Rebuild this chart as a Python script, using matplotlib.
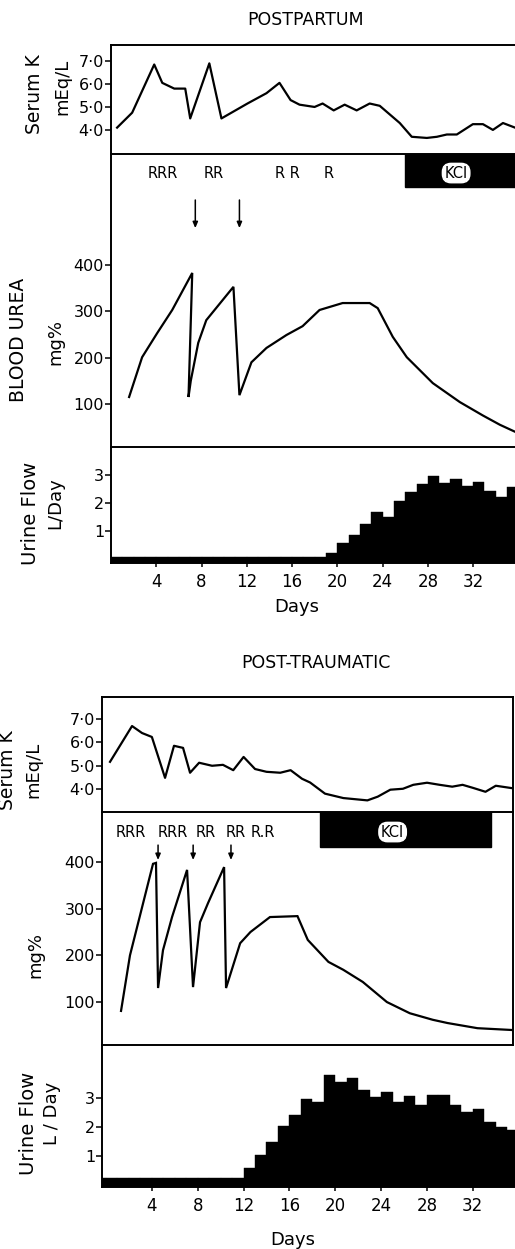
import matplotlib
matplotlib.use("Agg")
import matplotlib.pyplot as plt
from matplotlib.patches import Rectangle

plt.rcParams['font.family'] = ['DejaVu Sans']

# ---------------- POSTPARTUM data ----------------
pp_k_day = [0.54, 1.87, 3.82, 4.53, 5.59, 6.56, 7.0, 8.69, 9.76, 12.06, 13.74, 14.89,
            15.87, 16.66, 17.99, 18.7, 19.68, 20.65, 21.71, 22.86, 23.75, 25.52, 26.58,
            27.91, 28.8, 29.68, 30.56, 31.98, 32.87, 33.75, 34.64, 35.7]
pp_k_val = [4.1, 4.75, 6.85, 6.05, 5.8, 5.8, 4.5, 6.9, 4.5, 5.15, 5.6, 6.05,
            5.3, 5.1, 5.0, 5.15, 4.85, 5.1, 4.85, 5.15, 5.05, 4.3, 3.7,
            3.65, 3.7, 3.8, 3.8, 4.25, 4.25, 4.0, 4.3, 4.1]

pp_urea_day = [1.6, 2.75, 4.08, 5.41, 7.18, 6.85, 7.05, 7.71, 8.42, 10.82, 11.35, 12.41,
               13.74, 15.51, 16.93, 18.43, 20.47, 22.86, 23.57, 24.9, 26.14, 28.44,
               30.83, 32.87, 34.37, 35.7]
pp_urea_val = [115, 201, 253, 303, 383, 115, 150, 232, 281, 353, 119, 190,
               221, 249, 268, 303, 318, 318, 307, 245, 201, 145,
               104, 75, 55, 40]

pp_flow_day = list(range(0, 36))
pp_flow_val = [0.07] * 19 + [0.2, 0.57, 0.85, 1.25, 1.68, 1.5, 2.07, 2.4, 2.68, 2.96,
                             2.7, 2.85, 2.6, 2.75, 2.43, 2.2, 2.57]

pp_r_text = ['RRR', 'RR', 'R R', 'R']
pp_r_day = [4.6, 9.1, 15.6, 19.2]
pp_arrow_day = [7.45, 11.35]
pp_kcl_span = [26.0, 37.0]
pp_kcl_label_day = 30.5

# ---------------- POST-TRAUMATIC data ----------------
pt_k_day = [0.35, 2.27, 3.14, 4.0, 5.15, 5.93, 6.72, 7.33, 8.12, 9.25, 10.2, 11.1,
            12.0, 13.0, 14.0, 15.2, 16.1, 17.1, 17.8, 19.1, 20.7, 22.8, 23.7, 24.8,
            25.9, 26.8, 28.0, 29.1, 30.2, 31.1, 32.0, 33.1, 34.0, 35.5]
pt_k_val = [5.16, 6.7, 6.4, 6.23, 4.47, 5.85, 5.76, 4.69, 5.12, 4.99, 5.03, 4.8,
            5.37, 4.85, 4.73, 4.69, 4.8, 4.43, 4.27, 3.79, 3.6, 3.5, 3.66, 3.96,
            4.0, 4.17, 4.26, 4.17, 4.09, 4.17, 4.04, 3.87, 4.13, 4.02]

pt_urea_day = [1.31, 2.09, 4.1, 4.36, 4.54, 4.97, 5.76, 7.07, 7.59, 8.2, 8.9, 10.3,
               10.47, 11.7, 12.6, 14.3, 16.7, 17.6, 19.4, 20.7, 22.4, 24.5, 26.5,
               28.5, 29.8, 32.4, 35.5]
pt_urea_val = [81, 200, 396, 398, 130, 211, 282, 383, 132, 271, 312, 389,
               130, 226, 250, 282, 284, 233, 186, 169, 143, 100, 76,
               62, 55, 44, 40]

pt_flow_day = list(range(-1, 36))
pt_flow_val = [0.24] * 13 + [0.59, 1.03, 1.48, 2.03, 2.41, 2.97, 2.86, 3.79, 3.55, 3.69,
                             3.28, 3.03, 3.2, 2.86, 3.07, 2.76, 3.1, 3.1, 2.76, 2.52,
                             2.62, 2.17, 2.0, 1.9]

pt_r_text = ['RRR', 'RRR', 'RR', 'RR', 'R.R']
pt_r_day = [2.2, 5.8, 8.7, 11.3, 13.7]
pt_arrow_day = [4.54, 7.6, 10.9]
pt_kcl_span = [18.7, 33.6]
pt_kcl_label_day = 25.0

# shared tick labels
k_ticks = [4, 5, 6, 7]
k_ticklabels = ['4·0', '5·0', '6·0', '7·0']
urea_ticks = [100, 200, 300, 400]
flow_ticks = [1, 2, 3]
day_ticks = [4, 8, 12, 16, 20, 24, 28, 32]

# ---------------- figure ----------------
W, H = 515, 1249
fig = plt.figure(figsize=(W / 100, H / 100), dpi=100)
fig.patch.set_facecolor('white')


def add_ax(x0, x1, y0, y1):
    return fig.add_axes([x0 / W, 1 - y1 / H, (x1 - x0) / W, (y1 - y0) / H])


LW = 1.6
SPW = 1.4
TFS = 11.5


def style(ax, left=True, top=True, bottom=True, right=False):
    for k, v in dict(left=left, top=top, bottom=bottom, right=right).items():
        ax.spines[k].set_visible(v)
        ax.spines[k].set_linewidth(SPW)
    ax.tick_params(axis='y', direction='out', length=4, width=1.1, pad=1, labelsize=TFS)
    ax.tick_params(axis='x', bottom=False, labelbottom=False)
    ax.set_facecolor('none')


def chart(axK, axU, axF, kd, kv, ud, uv, fd, fv, xl_main, xl_flow, flow_ylim,
          rtext, rday, ry, arrows, ay0, ay1, kspan, kbot, klabel, kly, right_spine):
    # Serum K
    axK.plot(kd, kv, color='black', lw=LW)
    axK.set_xlim(*xl_main)
    axK.set_yticks(k_ticks)
    axK.set_yticklabels(k_ticklabels)
    style(axK, right=right_spine)
    # Urea
    axU.plot(ud, uv, color='black', lw=LW, solid_joinstyle='miter')
    axU.set_xlim(*xl_main)
    axU.set_yticks(urea_ticks)
    style(axU, top=False, right=right_spine)
    tr = axU.get_xaxis_transform()
    for t, d in zip(rtext, rday):
        axU.text(d, ry, t, transform=tr, ha='center', va='center', fontsize=10.5)
    for d in arrows:
        axU.annotate('', xy=(d, ay1), xytext=(d, ay0), xycoords=tr, textcoords=tr,
                     arrowprops=dict(arrowstyle='-|>,head_length=0.35,head_width=0.15',
                                     color='black', lw=1.1, shrinkA=0, shrinkB=0))
    axU.add_patch(Rectangle((kspan[0], kbot), kspan[1] - kspan[0], 1 - kbot,
                            transform=tr, facecolor='black', edgecolor='black',
                            clip_on=True))
    axU.text(klabel, kly, 'KCl', transform=tr, ha='center', va='center', fontsize=10.5,
             color='black',
             bbox=dict(boxstyle='round,pad=0.15,rounding_size=0.6', facecolor='white',
                       edgecolor='white'))
    # Urine flow
    axF.bar(fd, [v - flow_ylim[0] for v in fv], width=1.0, align='edge',
            bottom=flow_ylim[0], color='black', edgecolor='black', linewidth=0.3)
    axF.set_xlim(*xl_flow)
    axF.set_ylim(*flow_ylim)
    axF.set_yticks(flow_ticks)
    style(axF, top=False)
    axF.tick_params(axis='x', bottom=True, labelbottom=True, direction='out',
                    length=3, width=1.1, pad=4, labelsize=12)
    axF.set_xticks(day_ticks)


# ---- POSTPARTUM ----
axK1 = add_ax(111, 517, 45, 154)
axU1 = add_ax(111, 517, 154, 447)
axF1 = add_ax(111, 517, 447, 563)
axK1.set_ylim(2.95, 7.7)
axU1.set_ylim(7, 640)
chart(axK1, axU1, axF1, pp_k_day, pp_k_val, pp_urea_day, pp_urea_val,
      pp_flow_day, pp_flow_val, (0, 35.88), (0, 35.88), (-0.15, 4.0),
      pp_r_text, pp_r_day, 0.932, pp_arrow_day, 0.843, 0.747,
      pp_kcl_span, 0.887, pp_kcl_label_day, 0.935, False)

# ---- POST-TRAUMATIC ----
axK2 = add_ax(102, 513, 697, 812)
axU2 = add_ax(102, 513, 812, 1045)
axF2 = add_ax(102, 517, 1045, 1187)
axK2.set_ylim(3.0, 7.95)
axU2.set_ylim(8, 507)
chart(axK2, axU2, axF2, pt_k_day, pt_k_val, pt_urea_day, pt_urea_val,
      pt_flow_day, pt_flow_val, (-0.35, 35.5), (-0.35, 35.86), (-0.07, 4.83),
      pt_r_text, pt_r_day, 0.914, pt_arrow_day, 0.858, 0.794,
      pt_kcl_span, 0.85, pt_kcl_label_day, 0.914, True)


def ftext(x, y, s, size, rot=0):
    fig.text(x / W, 1 - y / H, s, ha='center', va='center', fontsize=size, rotation=rot)


# titles
ftext(306, 20, 'POSTPARTUM', 12.5)
ftext(316, 663, 'POST-TRAUMATIC', 12.5)

# y-axis labels, postpartum
ftext(35, 94, 'Serum K', 13.5, 90)
ftext(62, 87, 'mEq/L', 13, 90)
ftext(19, 340, 'BLOOD UREA', 13.5, 90)
ftext(55, 342, 'mg%', 13, 90)
ftext(30, 513, 'Urine Flow', 14, 90)
ftext(55, 503, 'L/Day', 13, 90)
ftext(297, 607, 'Days', 13)

# y-axis labels, post-traumatic
ftext(8, 770, 'Serum K', 13.5, 90)
ftext(33, 770, 'mEq/L', 13, 90)
ftext(35, 955, 'mg%', 13, 90)
ftext(28, 1123, 'Urine Flow', 14, 90)
ftext(52, 1113, 'L / Day', 13, 90)
ftext(293, 1240, 'Days', 13)

fig.savefig('out.png', dpi=100, facecolor='white')
